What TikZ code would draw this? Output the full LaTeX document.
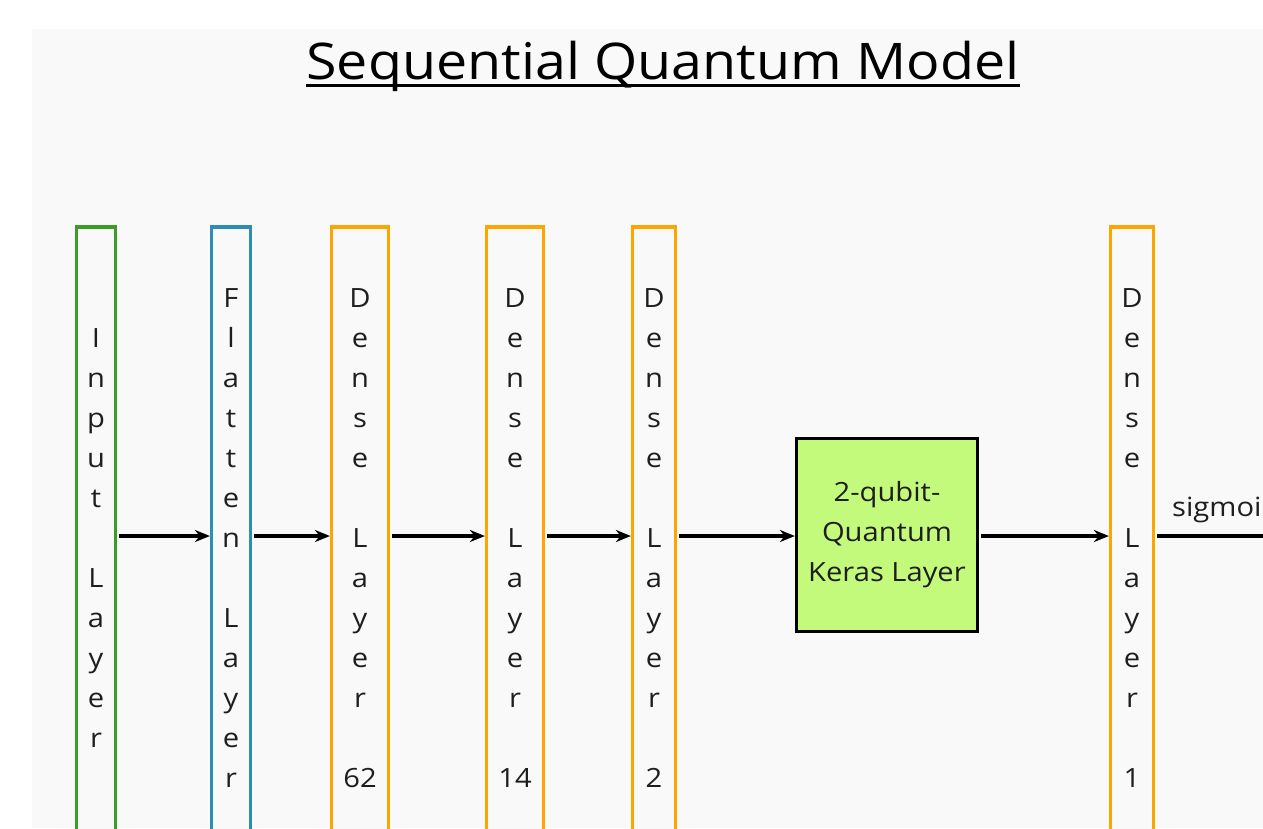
\documentclass[tikz,border=0pt]{standalone}
\usepackage{fontspec}
\setmainfont[FakeStretch=1.1]{Open Sans}
\usetikzlibrary{arrows.meta}
\definecolor{bggray}{HTML}{F9F9F9}
\definecolor{ingreen}{HTML}{3A9E26}
\definecolor{flblue}{HTML}{2E8DB3}
\definecolor{dnorange}{HTML}{FFA500}
\definecolor{qfill}{HTML}{C4FA7C}
\definecolor{txt}{HTML}{1E1E1E}
\tikzset{
  layerbox/.style={draw, line width=3.2pt, fill=bggray, minimum height=622pt, inner sep=0pt, align=center, text=txt,
    font=\fontsize{26.5}{40}\selectfont},
  conn/.style={-{Stealth[length=15pt,width=12pt]}, line width=3.4pt, shorten <=2pt},
}
\begin{document}
\begin{tikzpicture}[x=1pt,y=-1pt]
\useasboundingbox (0,0) rectangle (1263,828);
\clip (0,0) rectangle (1263,828);
\fill[white] (0,0) rectangle (1263,828);
\fill[bggray] (32,29) rectangle (1263,828);
% title
\node[inner sep=0pt, anchor=base, font=\fontsize{50.5}{60}\selectfont, text=black] (title) at (663,79) {Sequential Quantum Model};
\draw[line width=3pt] ([yshift=-6pt]title.base west) -- ([yshift=-6pt]title.base east);
% layers
\node[layerbox, draw=ingreen, minimum width=39pt] (inp) at (96,538) {I\\n\\p\\u\\t\\\mbox{}\\L\\a\\y\\e\\r};
\node[layerbox, draw=flblue, minimum width=39pt] (flat) at (231,538) {F\\l\\a\\t\\t\\e\\n\\\mbox{}\\L\\a\\y\\e\\r};
\node[layerbox, draw=dnorange, minimum width=57pt] (d62) at (360,538) {D\\e\\n\\s\\e\\\mbox{}\\L\\a\\y\\e\\r\\\mbox{}\\62};
\node[layerbox, draw=dnorange, minimum width=57pt] (d14) at (515,538) {D\\e\\n\\s\\e\\\mbox{}\\L\\a\\y\\e\\r\\\mbox{}\\14};
\node[layerbox, draw=dnorange, minimum width=43pt] (d2) at (654,538) {D\\e\\n\\s\\e\\\mbox{}\\L\\a\\y\\e\\r\\\mbox{}\\2};
\node[draw, line width=3.2pt, fill=qfill, minimum width=181pt, minimum height=193pt, inner sep=0pt, align=center, text=txt,
  font=\fontsize{26.5}{40}\selectfont] (q) at (887,535) {2-qubit-\\Quantum\\Keras Layer};
\node[layerbox, draw=dnorange, minimum width=43pt] (d1) at (1132,538) {D\\e\\n\\s\\e\\\mbox{}\\L\\a\\y\\e\\r\\\mbox{}\\1};
\coordinate (ay) at (0,536);
\coordinate (out) at (1300,536);
% connectors
\draw[conn] (inp.east |- ay) -- (flat.west |- ay);
\draw[conn] (flat.east |- ay) -- (d62.west |- ay);
\draw[conn] (d62.east |- ay) -- (d14.west |- ay);
\draw[conn] (d14.east |- ay) -- (d2.west |- ay);
\draw[conn] (d2.east |- ay) -- (q.west |- ay);
\draw[conn] (q.east |- ay) -- (d1.west |- ay);
\draw[line width=3.4pt, shorten <=2pt] (d1.east |- ay) -- (out);
\node[anchor=base west, inner sep=0pt, font=\fontsize{26.5}{30}\selectfont, text=txt] (sig) at (1172,516) {sigmoid};
\end{tikzpicture}
\end{document}
